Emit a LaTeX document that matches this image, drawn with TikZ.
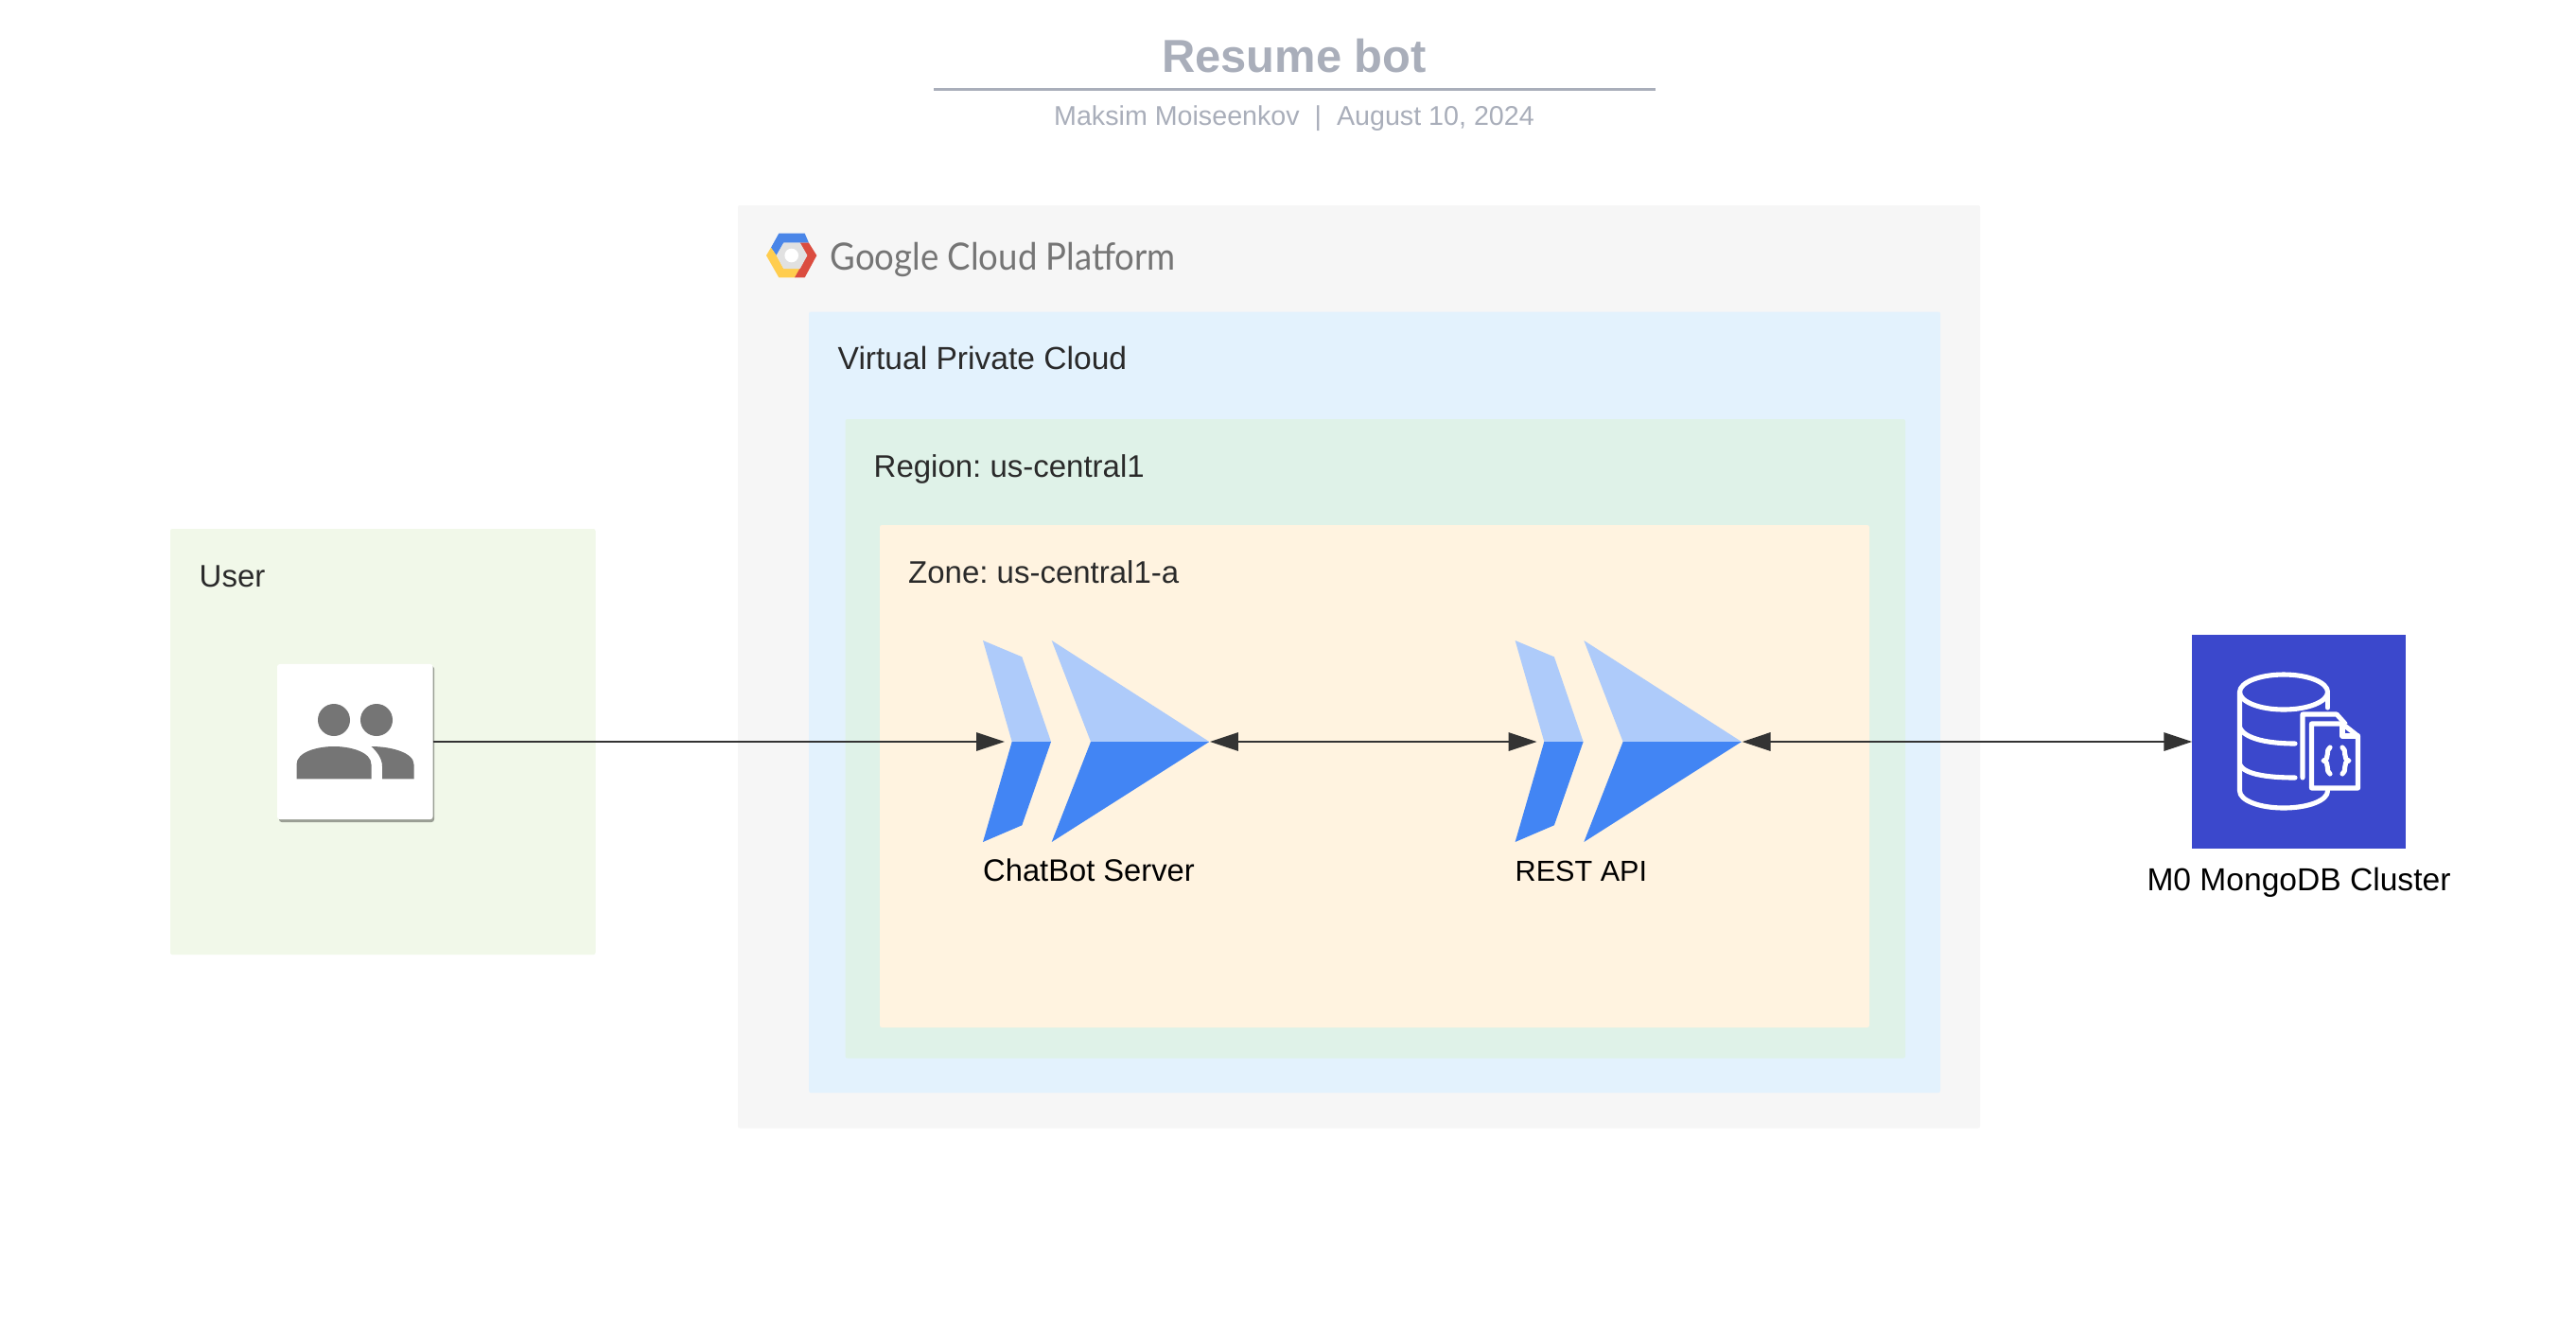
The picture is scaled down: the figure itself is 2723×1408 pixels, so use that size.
\documentclass[tikz,border=0pt]{standalone}
\usepackage{fontspec}
\usepackage{graphicx}
\setmainfont{Liberation Sans}
\newfontfamily\logofont{Lato}
\usetikzlibrary{arrows.meta}
\definecolor{gcpbg}{HTML}{F6F6F6}
\definecolor{vpcbg}{HTML}{E3F2FD}
\definecolor{regionbg}{HTML}{DFF2E8}
\definecolor{zonebg}{HTML}{FFF3E0}
\definecolor{userbg}{HTML}{F1F8E9}
\definecolor{chevlight}{HTML}{AECBFA}
\definecolor{chevdark}{HTML}{4285F4}
\definecolor{mongobg}{HTML}{3B48CC}
\definecolor{titlegrey}{HTML}{A9AEBA}
\definecolor{labeldark}{HTML}{2A2A2A}
\definecolor{icongrey}{HTML}{757575}
\definecolor{cardshadow}{HTML}{9A9E94}
\definecolor{linedark}{HTML}{333333}
\definecolor{logoblue}{HTML}{4A86E8}
\definecolor{logoyellow}{HTML}{FFCD4E}
\definecolor{logored}{HTML}{DB4C3F}
\definecolor{logogrey}{HTML}{E1E1E1}
\tikzset{
  zonebox/.style={rounded corners=0.6pt,line width=0pt},
  boxlabel/.style={anchor=base west,inner sep=0pt,text=labeldark,font=\fontsize{9.38pt}{11pt}\selectfont\frenchspacing},
  iconlabel/.style={anchor=base west,inner sep=0pt,text=black,font=\fontsize{9.3pt}{11pt}\selectfont},
  anchorbox/.style={inner sep=0pt,outer sep=0pt,minimum width=2.17cm,minimum height=2.13cm},
  link/.style={draw=linedark,line width=0.6pt},
  mongoline/.style={draw=white,line width=1.45pt,line cap=round,line join=round},
  chevronicon/.pic={
    \fill[chevlight] (1039,677) -- (1080.3,694.3) -- (1111,784) -- (1069.7,784) -- cycle;
    \fill[chevdark] (1039,890) -- (1080.3,872.3) -- (1111,784) -- (1069.7,784) -- cycle;
    \fill[chevlight] (1111.7,677) -- (1278.3,784) -- (1153,784) -- cycle;
    \fill[chevdark] (1111.7,890) -- (1278.3,784) -- (1153,784) -- cycle;
  }
}
\begin{document}
\begin{tikzpicture}[x=0.01cm,y=-0.01cm]
\useasboundingbox (0,0) rectangle (2723,1408);
\fill[white] (0,0) rectangle (2723,1408);
% title
\node[anchor=base,inner sep=0pt,text=titlegrey,font=\fontsize{13.9pt}{16pt}\selectfont\bfseries] (title) at (1368,76) {Resume bot};
\coordinate (ruleL) at (987,94);
\coordinate (ruleR) at (1750,94);
\draw[titlegrey,line width=0.85pt] (ruleL) -- (ruleR);
\node[anchor=base,inner sep=0pt,text=titlegrey,font=\fontsize{8.15pt}{10pt}\selectfont] (subtitle) at (1368,132) {Maksim Moiseenkov\ \ |\ \ August 10, 2024};
% containers
\fill[gcpbg,zonebox] (780,217) rectangle (2093,1192.5);
\fill[vpcbg,zonebox] (855,329.5) rectangle (2051,1155);
\fill[regionbg,zonebox] (893.5,443) rectangle (2014,1118.5);
\fill[zonebg,zonebox] (930,555) rectangle (1976,1086);
\fill[userbg,zonebox] (180,559) rectangle (629.5,1009);
\node[boxlabel,font=\fontsize{9.55pt}{11pt}\selectfont] (vpclabel) at (885,390) {Virtual Private Cloud};
\node[boxlabel] (regionlabel) at (923,504) {Region: us-central1};
\node[boxlabel] (zonelabel) at (959.5,616.5) {Zone: us-central1-a};
\node[boxlabel] (userlabel) at (210,620) {User};
% GCP logo
\fill[logoblue] (815,261.7) -- (823.3,246.7) -- (850.7,246.7) -- (855,256.7) -- (828.3,256.7) -- (820.7,270) -- cycle;
\fill[logoyellow] (810,270) -- (815,261.7) -- (820.7,270) -- (828.3,284) -- (845.7,284) -- (840,293.3) -- (823.3,293.3) -- cycle;
\fill[logored] (845.7,256.7) -- (855,256.7) -- (863.3,270) -- (850.7,293.3) -- (840,293.3) -- (853.3,270) -- cycle;
\fill[logogrey] (820.7,270) -- (828.3,256.7) -- (845.7,256.7) -- (853.3,270) -- (845.7,284) -- (828.3,284) -- cycle;
\fill[white] (836.7,270) circle (7.3);
\node[anchor=base west,inner sep=0pt,text=icongrey,font=\logofont\fontsize{11.3pt}{13pt}\selectfont] (logotext) at (877,285) {\scalebox{0.92}[1]{Google Cloud Platform}};
% user card
\fill[cardshadow,rounded corners=0.8pt] (295,704) rectangle (459,869);
\node[inner sep=0pt,outer sep=0pt,fill=white,rounded corners=0.8pt,minimum width=1.645cm,minimum height=1.64cm] (usercard) at (375.3,784) {};
\fill[icongrey] (353,761) circle (17);
\fill[icongrey] (398,761) circle (17);
\fill[icongrey] (313.5,823.3) -- (313.5,808) .. controls (313.5,795) and (335,789) .. (353,789) .. controls (371,789) and (392.5,795) .. (392.5,808) -- (392.5,823.3) -- cycle;
\fill[icongrey] (392.5,789) .. controls (412,789) and (437.5,795) .. (437.5,808) -- (437.5,823.3) -- (404,823.3) -- (404,810) .. controls (404,802) and (399,795) .. (392.5,789) -- cycle;
% chevrons
\pic at (0,0) {chevronicon};
\pic at (562.6,0) {chevronicon};
\node[anchorbox] (chatbot) at (1170.5,784) {};
\node[anchorbox] (restapi) at (1733.1,784) {};
\node[iconlabel] (chatlabel) at (1038.5,931) {ChatBot Server};
\node[iconlabel,font=\fontsize{8.7pt}{11pt}\selectfont] (restlabel) at (1601,931) {REST API};
% mongo
\node[inner sep=0pt,outer sep=0pt,fill=mongobg,minimum width=2.254cm,minimum height=2.25cm] (mongo) at (2430,784) {};
\begin{scope}[mongoline]
\draw (2414,731.5) ellipse (46.5 and 18.5);
\draw (2367.5,731.5) -- (2367.5,836) .. controls (2367.5,846) and (2388,854) .. (2414,854) .. controls (2440,854) and (2460.5,846) .. (2460.5,836);
\draw (2460.5,731.5) -- (2460.5,748);
\draw (2367.5,769) .. controls (2372,780) and (2395,786) .. (2426,786);
\draw (2367.5,808) .. controls (2372,818) and (2395,822) .. (2426,822);
\draw (2434,822) -- (2434,755) -- (2470,755) -- (2479,765);
\fill[mongobg] (2443,765) rectangle (2492,833);
\draw (2443.5,765) -- (2476,765) -- (2492.5,778) -- (2492.5,833) -- (2443.5,833) -- cycle;
\draw (2476,765) -- (2476,778) -- (2492.5,778);
\draw (2463,790) .. controls (2458,792) and (2463,803) .. (2456,804) .. controls (2463,805) and (2458,816) .. (2463,818);
\draw (2476,790) .. controls (2481,792) and (2476,803) .. (2483,804) .. controls (2476,805) and (2481,816) .. (2476,818);
\end{scope}
\node[anchor=base,inner sep=0pt,text=black,font=\fontsize{9.55pt}{11pt}\selectfont] (mongolabel) at (2430,941) {M0 MongoDB Cluster};
% connectors
\draw[link,-{Triangle[length=8.5pt,width=5.5pt]}] (usercard.east) -- (chatbot.west);
\draw[link,{Triangle[length=8.5pt,width=5.5pt]}-{Triangle[length=8.5pt,width=5.5pt]}] (chatbot.east) -- (restapi.west);
\draw[link,{Triangle[length=8.5pt,width=5.5pt]}-{Triangle[length=8.5pt,width=5.5pt]}] (restapi.east) -- (mongo.west);
\end{tikzpicture}
\end{document}
